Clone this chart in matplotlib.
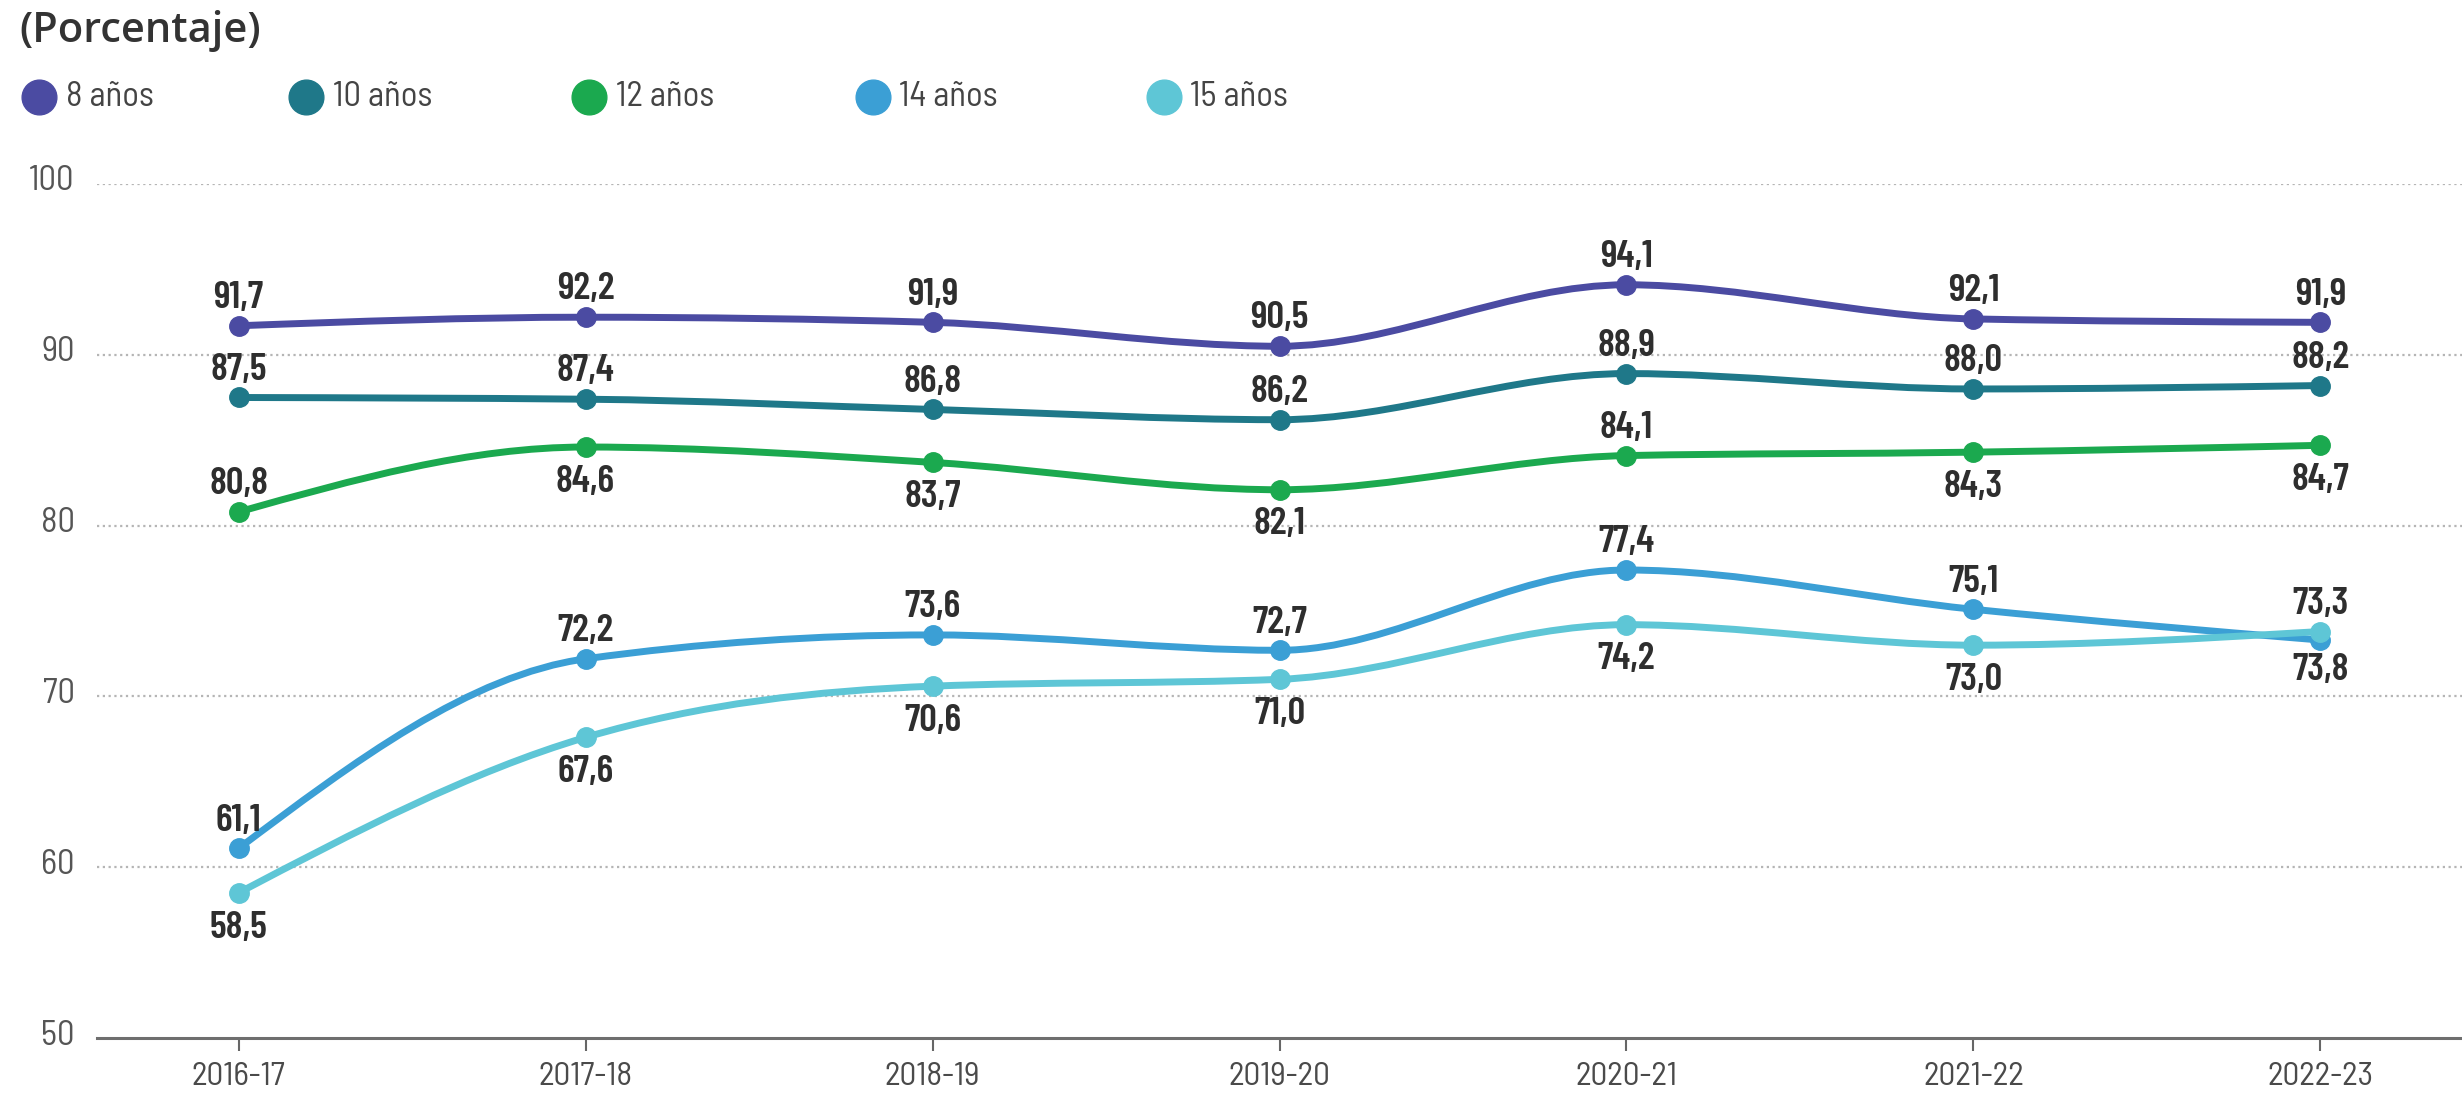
import numpy as np
import matplotlib
matplotlib.use("Agg")
from matplotlib import pyplot as plt
from matplotlib.path import Path
from matplotlib.patches import PathPatch
from matplotlib.lines import Line2D
import matplotlib.transforms as mtransforms

# --- data ---
seasons = ["2016-17", "2017-18", "2018-19", "2019-20", "2020-21", "2021-22", "2022-23"]
series_names = ["8 años", "10 años", "12 años", "14 años", "15 años"]
age8 = [91.7, 92.2, 91.9, 90.5, 94.1, 92.1, 91.9]
age10 = [87.5, 87.4, 86.8, 86.2, 88.9, 88.0, 88.2]
age12 = [80.8, 84.6, 83.7, 82.1, 84.1, 84.3, 84.7]
age14 = [61.1, 72.2, 73.6, 72.7, 77.4, 75.1, 73.3]
age15 = [58.5, 67.6, 70.6, 71.0, 74.2, 73.0, 73.8]
# label above (1) or below (-1) the point
pos8 = [1, 1, 1, 1, 1, 1, 1]
pos10 = [1, 1, 1, 1, 1, 1, 1]
pos12 = [1, -1, -1, -1, 1, -1, -1]
pos14 = [1, 1, 1, 1, 1, 1, 1]
pos15 = [-1, -1, -1, -1, -1, -1, -1]
yticks = [50, 60, 70, 80, 90, 100]

colours = ["#4b4ba2", "#1f7889", "#1ba94f", "#3b9fd5", "#5ec6d6"]

NARROW = ["Barlow Condensed", "DejaVu Sans"]
SEMI = ["Barlow Semi Condensed", "DejaVu Sans"]


def monotone_path(xs, ys):
    """Monotone cubic (d3 curveMonotoneX style) path through the points"""
    xs = np.asarray(xs, float)
    ys = np.asarray(ys, float)
    h = np.diff(xs)
    s = np.diff(ys) / h
    n = len(xs)
    t = np.zeros(n)
    for i in range(1, n - 1):
        p = (s[i - 1] * h[i] + s[i] * h[i - 1]) / (h[i - 1] + h[i])
        sg = (1 if s[i - 1] >= 0 else -1) + (1 if s[i] >= 0 else -1)
        t[i] = sg * min(abs(s[i - 1]), abs(s[i]), 0.5 * abs(p))
    t[0] = (3 * s[0] - t[1]) / 2
    t[-1] = (3 * s[-1] - t[-2]) / 2
    verts = [(xs[0], ys[0])]
    codes = [Path.MOVETO]
    for i in range(n - 1):
        dx = h[i] / 3
        verts += [(xs[i] + dx, ys[i] + dx * t[i]),
                  (xs[i + 1] - dx, ys[i + 1] - dx * t[i + 1]),
                  (xs[i + 1], ys[i + 1])]
        codes += [Path.CURVE4] * 3
    return Path(verts, codes)


fig = plt.figure(figsize=(24.62, 11.05), dpi=100)
ax = fig.add_axes([0.0394, 0.0606, 0.9606, 0.7729])

x = np.arange(len(seasons))
all_series = [age8, age10, age12, age14, age15]
all_pos = [pos8, pos10, pos12, pos14, pos15]

for vals, c in zip(all_series, colours):
    patch = PathPatch(monotone_path(x, vals), facecolor="none", edgecolor=c,
                      linewidth=5, capstyle="round", joinstyle="round", zorder=3)
    ax.add_patch(patch)
    ax.plot(x, vals, linestyle="none", marker="o", markersize=14,
            color=c, zorder=4, clip_on=False)

last = len(seasons) - 1
for vals, pos in zip(all_series, all_pos):
    for xi, v, p in zip(x, vals, pos):
        off = 20 if p > 0 else -25
        # the two crossing series at the end share one spot: push labels apart
        if xi == last and vals in (age14, age15):
            off += 6 if p > 0 else -3
        ax.annotate(f"{v:.1f}".replace(".", ","), (xi, v), xytext=(0, off),
                    textcoords="offset points", ha="center", va="center",
                    fontsize=28, fontweight="semibold", color="#2e2e2e",
                    family=NARROW, zorder=5)

ax.set_xlim(-0.408, 6.408)
ax.set_ylim(50, 100)

ax.set_xticks(x)
ax.set_xticklabels(seasons, fontsize=24, color="#4a4a4a", family=SEMI)
ax.set_yticks(yticks)
ax.set_yticklabels(yticks, fontsize=25, color="#555555", family=SEMI)
ax.tick_params(axis="x", length=9, width=1.5, color="#666666", pad=8)
ax.tick_params(axis="y", length=0, pad=16)
shift = mtransforms.ScaledTranslation(0, 6 / 100, fig.dpi_scale_trans)
for lbl in ax.get_yticklabels():
    lbl.set_transform(lbl.get_transform() + shift)

for g in yticks[1:]:
    ax.axhline(g, color="#b5b5b5", linewidth=1.6, linestyle=(0, (1, 1.6)), zorder=1)

for side in ["top", "right", "left"]:
    ax.spines[side].set_visible(False)
ax.spines["bottom"].set_color("#6e6e6e")
ax.spines["bottom"].set_linewidth(2.2)

# header and legend
fig.text(0.0077, 0.972, "(Porcentaje)", fontsize=30, fontweight="semibold",
         color="#333333", family=["Open Sans", "DejaVu Sans"], va="center", ha="left")
leg_x = [0.0159, 0.1244, 0.2392, 0.3545, 0.4727]
for lx, name, c in zip(leg_x, series_names, colours):
    fig.add_artist(Line2D([lx], [0.912], marker="o", markersize=25, color=c,
                          linestyle="none", transform=fig.transFigure))
    fig.text(lx + 0.0108, 0.912, name, fontsize=25, color="#444444",
             va="center", ha="left", family=SEMI)

plt.savefig("out.png", dpi=100)
plt.close()
